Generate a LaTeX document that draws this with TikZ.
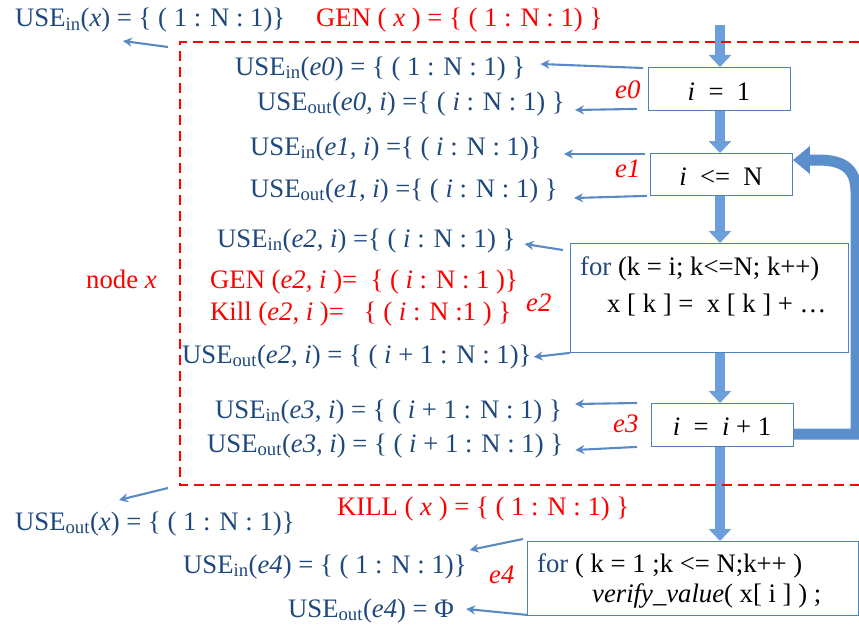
\documentclass[tikz,border=0pt]{standalone}
\usepackage{fontspec}
\setmainfont{Liberation Serif}
\usetikzlibrary{arrows.meta,calc}
\definecolor{tblue}{HTML}{1F497D}
\definecolor{ared}{HTML}{FF0000}
\definecolor{lblue}{HTML}{5A8AC6}
\definecolor{bblue}{HTML}{6C9FDB}
\definecolor{loopblue}{HTML}{5B8FCB}
\definecolor{edge}{HTML}{4F81BD}
\newcommand\sub[1]{\textsubscript{#1}}
\begin{document}
\begin{tikzpicture}[x=1pt,y=-1pt,
  txt/.style={anchor=base west, inner sep=0pt, text=tblue, font=\fontsize{26.7}{30}\selectfont},
  rtxt/.style={txt, text=ared},
  btxt/.style={txt, text=black},
  stmt/.style={draw=edge, line width=0.9pt, fill=white, inner sep=0pt, anchor=north west},
  thinar/.style={draw=lblue, line width=2.1pt, -{Stealth[length=9pt,width=9pt]}},
  blockar/.style={draw=bblue, line width=10pt, -{Triangle[length=12pt,width=22pt]}},
  looparrow/.style={draw=loopblue, line width=11pt, -{Triangle[length=17pt,width=27pt]}},
  redbox/.style={draw=ared, line width=2.8pt, dash pattern=on 10pt off 6pt},
]
\useasboundingbox (0,0) rectangle (859,626);

% statement boxes
\node[stmt, minimum width=142, minimum height=43] (b1) at (648,67) {};
\node[stmt, minimum width=142, minimum height=42] (b2) at (650,153) {};
\node[stmt, minimum width=278, minimum height=109] (b3) at (570,243) {};
\node[stmt, minimum width=142, minimum height=43] (b4) at (651,403) {};
\node[stmt, minimum width=331, minimum height=74] (b5) at (527,541) {};

% box texts
\node[btxt, anchor=base] (s1) at (719,100) {\textit{i}~~=~~1};
\node[btxt, anchor=base] (s2) at (721,185) {\textit{i}~~<=~~N};
\node[btxt] (s3a) at (580,275) {\textcolor{tblue}{for} (k = i; k<=N; k++)};
\node[btxt] (s3b) at (607,312) {x [ k ] =~ x [ k ] + …};
\node[btxt, anchor=base] (s4) at (722,435) {\textit{i}~~=~~\textit{i} + 1};
\node[btxt] (s5a) at (537,572) {\textcolor{tblue}{for} ( k = 1 ;k <= N;k++ )};
\node[btxt] (s5b) at (592,602) {\textit{verify\_value}( x[ i ] ) ;};

% flow (block) arrows
\coordinate (top) at (720,25);
\draw[blockar] (top) -- (top |- b1.north);
\draw[blockar] (top |- b1.south) -- (top |- b2.north);
\draw[blockar] (top |- b2.south) -- (top |- b3.north);
\draw[blockar] (top |- b3.south) -- (top |- b4.north);
\draw[blockar] (top |- b4.south) -- (top |- b5.north);

% loop back arrow
\coordinate (L1) at (856,434);
\coordinate (L2) at (856,192);
\coordinate (L3) at (818,160);
\draw[looparrow] (b4.east |- L1) -- (L1) -- (L2) .. controls (856,170) and (845,160) .. (L3) -- (b2.east |- L3);

% texts
\node[txt] (t1) at (15,27) {USE\sub{in}(\textit{x}) = \{ ( 1 : N : 1)\}};
\node[rtxt] (t2) at (316,27) {GEN ( \textit{x} ) = \{ ( 1 : N : 1) \}};
\node[txt] (t3) at (235,75) {USE\sub{in}(\textit{e0}) = \{ ( 1 : N : 1) \}};
\node[txt] (t4) at (257,110) {USE\sub{out}(\textit{e0, i}) =\{ ( \textit{i} : N : 1) \}};
\node[rtxt] (e0) at (615,98) {\textit{e0}};
\node[txt] (t7) at (250,155) {USE\sub{in}(\textit{e1, i}) =\{ ( \textit{i} : N : 1)\}};
\node[txt] (t8) at (250,197) {USE\sub{out}(\textit{e1, i}) =\{ ( \textit{i} : N : 1) \}};
\node[rtxt] (e1) at (615,177) {\textit{e1}};
\node[txt] (t11) at (217,247) {USE\sub{in}(\textit{e2, i}) =\{ ( \textit{i} : N : 1) \}};
\node[rtxt] (t12) at (210,288) {GEN (\textit{e2, i} )=~ \{ ( \textit{i} : N : 1 )\}};
\node[rtxt] (t13) at (210,320) {Kill (\textit{e2, i} )=~~ \{ ( \textit{i} : N :1 ) \}};
\node[rtxt] (nx) at (86,288) {node \textit{x}};
\node[rtxt] (e2) at (526,311) {\textit{e2}};
\node[txt] (t17) at (182,363) {USE\sub{out}(\textit{e2, i}) = \{ ( \textit{i} + 1 : N : 1)\}};
\node[txt] (t18) at (215,418) {USE\sub{in}(\textit{e3, i}) = \{ ( \textit{i} + 1 : N : 1) \}};
\node[txt] (t19) at (207,452) {USE\sub{out}(\textit{e3, i}) = \{ ( \textit{i} + 1 : N : 1) \}};
\node[rtxt] (e3) at (613,432) {\textit{e3}};
\node[rtxt] (t22) at (337,515) {KILL ( \textit{x} ) = \{ ( 1 : N : 1) \}};
\node[txt] (t23) at (15,530) {USE\sub{out}(\textit{x}) = \{ ( 1 : N : 1)\}};
\node[txt] (t24) at (183,573) {USE\sub{in}(\textit{e4}) = \{ ( 1 : N : 1)\}};
\node[rtxt] (e4) at (489,583) {\textit{e4}};
\node[txt] (t26) at (288,617) {USE\sub{out}(\textit{e4}) = Φ};

% node x region
\coordinate (nw) at (180,42);
\coordinate (sw) at (180,485);
\draw[redbox] (859,42) -- (nw) -- (sw) -- (859,485);

% thin arrows
\draw[thinar] ($(nw)+(-12,5)$) -- ($(t1.base west)+(108,14)$);
\draw[thinar] ($(b1.north west)+(-5,1)$) -- ($(t3.base east)+(15,-11)$);
\draw[thinar] ($(b1.south west)+(-11,-2)$) -- ($(t4.base east)+(10,0)$);
\draw[thinar] ($(b2.north west)+(-5,1)$) -- ($(t7.base east)+(22,-1)$);
\draw[thinar] ($(b2.south west)+(-3,0)$) -- ($(t8.base east)+(16,1)$);
\draw[thinar] ($(b3.north west)+(-7,7)$) -- ($(t11.base east)+(9,-3)$);
\draw[thinar] (b3.south west) -- ($(t17.base east)+(2,-6)$);
\draw[thinar] ($(b4.north west)+(-14,0)$) -- ($(t18.base east)+(13,-14)$);
\draw[thinar] ($(b4.south west)+(-14,0)$) -- ($(t19.base east)+(12,-2)$);
\draw[thinar] ($(sw)+(-12,3)$) -- ($(t23.base west)+(104,-30)$);
\draw[thinar] ($(b5.north west)+(-4,-2)$) -- ($(t24.base east)+(3,-23)$);
\draw[thinar] ($(b5.south west)+(0,-1)$) -- ($(t26.base east)+(12,-8)$);
\end{tikzpicture}
\end{document}
